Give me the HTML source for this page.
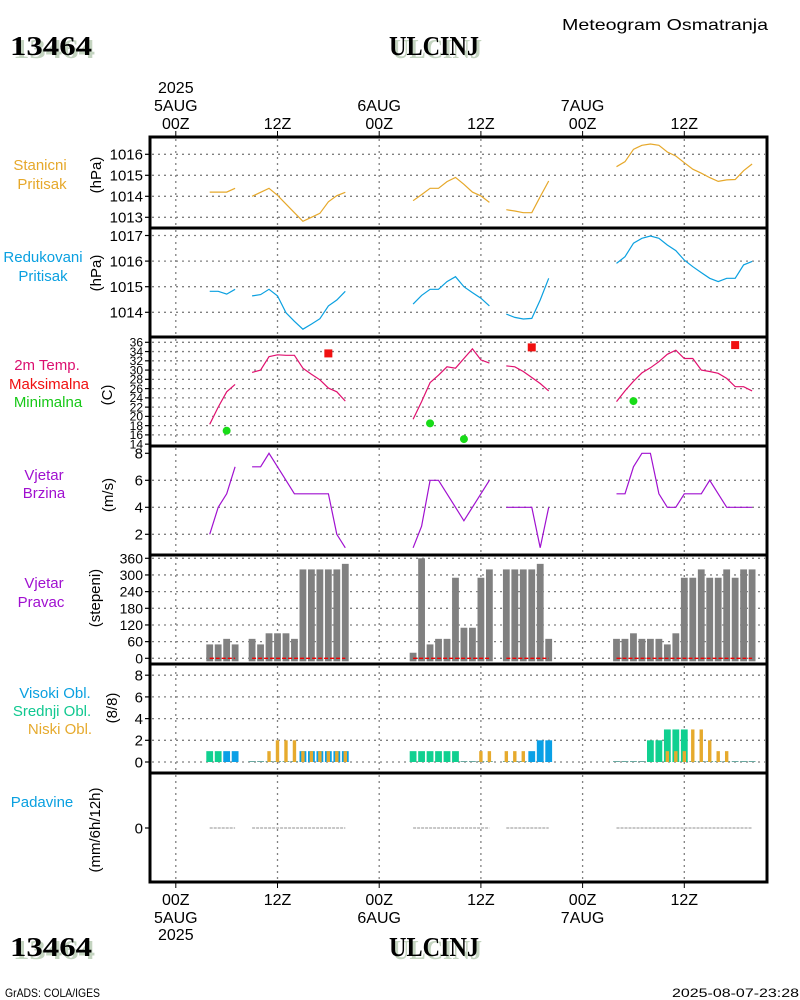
<!DOCTYPE html>
<html><head><meta charset="utf-8">
<style>
html,body{margin:0;padding:0;background:#fff;}
svg{display:block;font-family:"Liberation Sans",sans-serif;}
</style></head>
<body>
<svg id="chart" width="800" height="1000" viewBox="0 0 800 1000" xmlns="http://www.w3.org/2000/svg">
<rect x="0" y="0" width="800" height="1000" fill="#fff"/>
<g>
 <text x="13" y="58" font-family="Liberation Serif" font-weight="bold" font-size="27" fill="#c4d4c0" textLength="82" lengthAdjust="spacingAndGlyphs">13464</text>
 <text x="10" y="55" font-family="Liberation Serif" font-weight="bold" font-size="27" fill="#000" textLength="82" lengthAdjust="spacingAndGlyphs">13464</text>
 <text x="392" y="58" font-family="Liberation Serif" font-weight="bold" font-size="27" fill="#c4d4c0" textLength="90" lengthAdjust="spacingAndGlyphs">ULCINJ</text>
 <text x="389" y="55" font-family="Liberation Serif" font-weight="bold" font-size="27" fill="#000" textLength="90" lengthAdjust="spacingAndGlyphs">ULCINJ</text>
 <text x="562" y="30" font-size="16" fill="#000" textLength="206" lengthAdjust="spacingAndGlyphs">Meteogram Osmatranja</text>
</g>
<g>
 <text x="13" y="959" font-family="Liberation Serif" font-weight="bold" font-size="27" fill="#c4d4c0" textLength="82" lengthAdjust="spacingAndGlyphs">13464</text>
 <text x="10" y="956" font-family="Liberation Serif" font-weight="bold" font-size="27" fill="#000" textLength="82" lengthAdjust="spacingAndGlyphs">13464</text>
 <text x="392" y="959" font-family="Liberation Serif" font-weight="bold" font-size="27" fill="#c4d4c0" textLength="90" lengthAdjust="spacingAndGlyphs">ULCINJ</text>
 <text x="389" y="956" font-family="Liberation Serif" font-weight="bold" font-size="27" fill="#000" textLength="90" lengthAdjust="spacingAndGlyphs">ULCINJ</text>
 <text x="5" y="997" font-size="12" textLength="95" lengthAdjust="spacingAndGlyphs">GrADS: COLA/IGES</text>
 <text x="799" y="997" text-anchor="end" font-size="12" textLength="127" lengthAdjust="spacingAndGlyphs">2025-08-07-23:28</text>
</g>
<g id="grid"></g>
<g id="marks"></g>
<g id="frames"></g>
<g id="labels"></g>
</svg>
<script>
// ---- data ----
const hours = [4,5,6,7, 9,10,11,12,13,14,15,16,17,18,19,20, 28,29,30,31,32,33,34,35,36,37, 39,40,41,42,43,44, 52,53,54,55,56,57,58,59,60,61,62,63,64,65,66,67,68];
const stationPressure = [1014.2,1014.2,1014.2,1014.38, 1014.0,1014.19,1014.38,1014.05,1013.63,1013.22,1012.81,1013.0,1013.19,1013.74,1014.03,1014.19, 1013.79,1014.08,1014.38,1014.38,1014.7,1014.9,1014.57,1014.2,1014.02,1013.71, 1013.36,1013.3,1013.22,1013.22,1013.98,1014.73, 1015.41,1015.65,1016.24,1016.43,1016.49,1016.43,1016.11,1015.92,1015.6,1015.29,1015.1,1014.89,1014.71,1014.78,1014.8,1015.22,1015.54];
const reducedPressure = [1014.82,1014.82,1014.71,1014.9, 1014.64,1014.69,1014.9,1014.64,1013.98,1013.65,1013.34,1013.54,1013.75,1014.25,1014.48,1014.82, 1014.32,1014.66,1014.9,1014.9,1015.2,1015.39,1015.0,1014.77,1014.55,1014.25, 1013.93,1013.8,1013.74,1013.76,1014.48,1015.33, 1015.91,1016.17,1016.7,1016.89,1016.98,1016.89,1016.63,1016.41,1016.04,1015.78,1015.55,1015.33,1015.2,1015.33,1015.33,1015.85,1015.99];
const temperature = [18.3,22,25.3,26.9, 29.5,30,32.9,33.3,33.2,33.2,30.4,29.1,27.9,26.1,25.3,23.3, 19.4,23.2,27.3,28.9,30.7,30.4,32.5,34.6,32.2,31.5, 30.9,30.7,29.7,28.4,27.1,25.5, 23.2,25.5,27.6,29.4,30.5,31.8,33.4,34.3,32.5,32.5,30,29.7,29.3,28.2,26.4,26.4,25.5];
const maxHours = [18,42,66];
const maxTemps = [33.6,34.9,35.4];
const minHours = [6,30,34,54];
const minTemps = [16.9,18.5,15.1,23.3];
const windSpeed = [2,4,5,7, 7,7,8,7,6,5,5,5,5,5,2,1, 1,2.6,6,6,5,4,3,4,5,6, 4,4,4,4,1,4, 5,5,7,8,8,5,4,4,5,5,5,6,5,4,4,4,4];
const windDir = [50,50,70,50, 70,50,90,90,90,70,320,320,320,320,320,340, 20,360,50,70,70,290,110,110,290,320, 320,320,320,320,340,70, 70,70,90,70,70,70,50,90,290,290,320,290,290,320,290,320,320];
const cloudHigh = [0,0,1,1, 0,0,0,0,0,0,1,1,1,1,1,1, 0,0,0,0,0,0,0,0,0,0, 0,0,0,1,2,2, 0,0,0,0,0,0,0,0,0,0,0,0,0,0,0,0,0];
const cloudMid = [1,1,0,0, 0,0,0,0,0,0,0,0,0,0,0,0, 1,1,1,1,1,1,0,0,0,0, 0,0,0,0,0,0, 0,0,0,0,2,2,3,3,3,0,0,0,0,0,0,0,0];
const cloudLow = [0,0,0,0, 0,0,1,2,2,2,1,1,1,1,1,1, 0,0,0,0,0,0,0,0,1,1, 1,1,1,0,0,0, 0,0,0,0,0,0,1,1,1,3,3,2,1,1,0,0,0];
const precip = [0,0,0,0, 0,0,0,0,0,0,0,0,0,0,0,0, 0,0,0,0,0,0,0,0,0,0, 0,0,0,0,0,0, 0,0,0,0,0,0,0,0,0,0,0,0,0,0,0,0,0];
const stnTicks = [1013,1014,1015,1016];
const redTicks = [1014,1015,1016,1017];
const tempTicks = [14,16,18,20,22,24,26,28,30,32,34,36];
const windTicks = [2,4,6,8];
const dirTicks = [0,60,120,180,240,300,360];
const cloudTicks = [0,2,4,6,8];
const precipTicks = [0];
const timeTickHours = [0,12,24,36,48,60];
const timeTickLabels = ["00Z","12Z","00Z","12Z","00Z","12Z"];
const dateHours = [0,24,48];
const dateLabels = ["5AUG","6AUG","7AUG"];

// ---- scales ----
const NS='http://www.w3.org/2000/svg';
const X0=150, X1=767;
const x = h => 175.8 + 8.475*h;
const yStn = p => 154.3 - (p-1016)*21;
const yRed = p => 235.5 - (p-1017)*25.6;
const yT = t => 342.3 + (36-t)*4.63;
const yW = v => 453.3 + (8-v)*13.5;
const yD = d => 658.3 - d*0.2778;
const yC = n => 762 - n*10.85;
const yP = v => 828 - v*20;
const panels = [[137,228],[228,337],[337,446],[446,555],[555,664],[664,773],[773,882]];

function el(tag, attrs, parent){const e=document.createElementNS(NS,tag);for(const k in attrs)e.setAttribute(k,attrs[k]);parent.appendChild(e);return e;}
const grid=document.getElementById('grid'), marks=document.getElementById('marks'), frames=document.getElementById('frames'), labels=document.getElementById('labels');

// grids
const dot={stroke:'#808080','stroke-width':1.3,'stroke-dasharray':'2 4'};
panels.forEach(([a,b])=>{
  timeTickHours.forEach(h=>{const l=el('line',Object.assign({x1:x(h),x2:x(h),y1:a+2,y2:b-2},dot),grid);
    
    });
});
function hgrid(ticks, fy, name){ticks.forEach(v=>{const l=el('line',Object.assign({x1:X0+2,x2:X1-2,y1:fy(v),y2:fy(v)},dot),grid);
  
  });}
hgrid(stnTicks,yStn,'station-pressure-gridline');
hgrid(redTicks,yRed,'reduced-pressure-gridline');
hgrid(tempTicks.filter(t=>t>14),yT,'temperature-gridline');
hgrid(windTicks.filter(v=>v<8),yW,'wind-speed-gridline');
hgrid(dirTicks,yD,'wind-direction-gridline');
hgrid(cloudTicks,yC,'cloud-gridline');

// segmented lines
function segments(vals){const segs=[];let cur=[];hours.forEach((h,i)=>{if(cur.length&&h-hours[i-1]>1){segs.push(cur);cur=[];}cur.push([h,vals[i]]);});if(cur.length)segs.push(cur);return segs;}
function drawLine(vals, fy, color, name, w){segments(vals).forEach(s=>{const p=el('polyline',{points:s.map(([h,v])=>x(h).toFixed(1)+','+fy(v).toFixed(1)).join(' '),fill:'none',stroke:color,'stroke-width':w||1.2},marks);
  
  });}
drawLine(stationPressure,yStn,'#e6a82a','station-pressure-line');
drawLine(reducedPressure,yRed,'#0aa0e0','reduced-pressure-line');
drawLine(temperature,yT,'#e0106e','temperature-line');
drawLine(windSpeed,yW,'#a010d0','wind-speed-line');

maxHours.forEach((h,i)=>{const r=el('rect',{x:x(h)-4,y:yT(maxTemps[i])-4,width:8,height:8,fill:'#f01010'},marks);
  
  });
minHours.forEach((h,i)=>{const c=el('circle',{cx:x(h),cy:yT(minTemps[i]),r:4,fill:'#18dc18'},marks);
  
  });

// wind direction bars
hours.forEach((h,i)=>{const r=el('rect',{x:x(h)-3.4,y:yD(windDir[i]),width:6.8,height:yD(0)-yD(windDir[i])+3,fill:'#808080'},marks);
  
  });
segments(windDir).forEach(s=>{const l=el('line',{x1:x(s[0][0]),x2:x(s[s.length-1][0]),y1:yD(0),y2:yD(0),stroke:'#f00000','stroke-width':1.3,'stroke-dasharray':'4 2'},marks);
  
  });

// clouds
hours.forEach((h,i)=>{
  const base=el('line',{x1:x(h)-3.4,x2:x(h)+3.4,y1:yC(0)-0.5,y2:yC(0)-0.5,stroke:'#6aa8a0','stroke-width':1},marks);
  
  
  if(cloudHigh[i]>0){const r=el('rect',{x:x(h)-3.4,y:yC(cloudHigh[i]),width:6.8,height:yC(0)-yC(cloudHigh[i]),fill:'#0aa0e6'},marks);
    
    }
  if(cloudMid[i]>0){const r=el('rect',{x:x(h)-3.4,y:yC(cloudMid[i]),width:6.8,height:yC(0)-yC(cloudMid[i]),fill:'#10d090'},marks);
    
    }
  if(cloudLow[i]>0){const r=el('rect',{x:x(h)-1.7,y:yC(cloudLow[i]),width:3.4,height:yC(0)-yC(cloudLow[i]),fill:'#e6aa2d'},marks);
    
    }
});
// precipitation
segments(precip).forEach(s=>{const p=el('polyline',{points:s.map(([h,v])=>x(h).toFixed(1)+','+yP(v).toFixed(1)).join(' '),fill:'none',stroke:'#909090','stroke-width':1,'stroke-dasharray':'3 1'},marks);
  
  });

// frames
panels.forEach(([a,b])=>{const r=el('rect',{x:X0,y:a,width:X1-X0,height:b-a,fill:'none',stroke:'#000','stroke-width':3},frames);
  
  });

// y tick labels
function yLabels(ticks, fy, name, fs){ticks.forEach(v=>{
  el('line',{x1:145,x2:150,y1:fy(v),y2:fy(v),stroke:'#000','stroke-width':1.2},labels);
  const t=el('text',{x:143,y:fy(v)+(fs||15)*0.36,'text-anchor':'end','font-size':fs||15,fill:'#000'},labels);
  t.textContent=v;
  
  });}
yLabels(stnTicks,yStn,'station-pressure-tick');
yLabels(redTicks,yRed,'reduced-pressure-tick');
yLabels(tempTicks,yT,'temperature-tick',12);
yLabels(windTicks,yW,'wind-speed-tick');
yLabels(dirTicks,yD,'wind-direction-tick',14);
yLabels(cloudTicks,yC,'cloud-tick');
yLabels(precipTicks,yP,'precipitation-tick');

// time axis
timeTickHours.forEach((h,i)=>{
  el('line',{x1:x(h),x2:x(h),y1:131,y2:137,stroke:'#000','stroke-width':1},labels);
  el('line',{x1:x(h),x2:x(h),y1:882,y2:888,stroke:'#000','stroke-width':1},labels);
  const t1=el('text',{x:x(h),y:129,'text-anchor':'middle','font-size':16},labels);
  t1.textContent=timeTickLabels[i];
  
  
  const t2=el('text',{x:x(h),y:905,'text-anchor':'middle','font-size':16},labels);
  t2.textContent=timeTickLabels[i];
  
  
});
dateHours.forEach((h,i)=>{
  const t1=el('text',{x:x(h),y:111,'text-anchor':'middle','font-size':16},labels);
  t1.textContent=dateLabels[i];
  
  
  const t2=el('text',{x:x(h),y:923,'text-anchor':'middle','font-size':16},labels);
  t2.textContent=dateLabels[i];
  
  
});
const y1=el('text',{x:x(0),y:93,'text-anchor':'middle','font-size':16},labels);
y1.textContent='2025';


const y2=el('text',{x:x(0),y:940,'text-anchor':'middle','font-size':16},labels);
y2.textContent='2025';



// panel titles
const titles=[
 ['Stanicni',40,170,'#e6a82a'],['Pritisak',42,189,'#e6a82a'],
 ['Redukovani',43,262,'#0aa0e0'],['Pritisak',43,281,'#0aa0e0'],
 ['2m Temp.',47,370,'#dc1070'],['Maksimalna',49,389,'#f01010'],['Minimalna',48,407,'#18c818'],
 ['Vjetar',44,480,'#a010d0'],['Brzina',44,498,'#a010d0'],
 ['Vjetar',44,588,'#a010d0'],['Pravac',41,607,'#a010d0'],
 ['Visoki Obl.',55,698,'#0aa0e0'],['Srednji Obl.',52,716,'#10c890'],['Niski Obl.',60,734,'#e6aa2d'],
 ['Padavine',42,807,'#0aa0e0']];
titles.forEach(([s,cx,cy,c])=>{const t=el('text',{x:cx,y:cy,'text-anchor':'middle','font-size':15,fill:c},labels);
  t.textContent=s;
  
  });
const units=[['(hPa)',96,175],['(hPa)',96,273],['(C)',107,395],['(m/s)',108,495],['(stepeni)',95,598],['(8/8)',112,708],['(mm/6h/12h)',95,830]];
units.forEach(([s,cx,cy])=>{const t=el('text',{x:cx,y:cy,'text-anchor':'middle','font-size':15,transform:`rotate(-90 ${cx} ${cy}) translate(0 5)`},labels);
  t.textContent=s;
  
  });
</script>
</body></html>
